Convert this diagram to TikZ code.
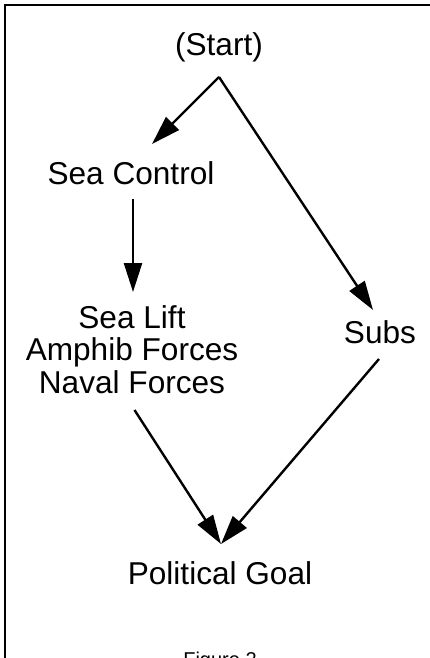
\documentclass[tikz,border=0pt]{standalone}
\usepackage{fontspec}
\setmainfont{Liberation Sans}
\usetikzlibrary{arrows.meta}
\begin{document}
\begin{tikzpicture}[x=1pt,y=-1pt,
  lbl/.style={font=\fontsize{31.6}{32.5}\selectfont, inner sep=0pt, anchor=base, align=center},
  figcap/.style={font=\fontsize{20}{22}\selectfont, inner sep=0pt, anchor=north},
  arr/.style={line width=2.4pt, -{Triangle[length=29pt,width=18pt]}},
  framestyle/.style={line width=2.6pt}]
\useasboundingbox (0,0) rectangle (430,658);
\clip (0,0) rectangle (430,658);
\draw[framestyle] (5,680) -- (5,5) -- (450,5);
\node[lbl] (start) at (219,55.5) {(Start)};
\node[lbl] (sc) at (131,184) {Sea Control};
\node[lbl] (lift) at (132,393) {Sea Lift\\Amphib Forces\\Naval Forces};
\node[lbl] (subs) at (380,343) {Subs};
\node[lbl] (goal) at (220,584) {Political Goal};
\node[figcap] (fig) at (220,651.5) {Figure 2};
\coordinate (apex) at (219,77);
\coordinate (scin) at (152,144);
\coordinate (scout) at (133,199);
\coordinate (liftin) at (133,292);
\coordinate (liftout) at (134.5,410);
\coordinate (subsin) at (373,310);
\coordinate (subsout) at (379,359);
\coordinate (goalin) at (221,544);
\draw[arr] (apex) -- (scin);
\draw[arr] (apex) -- (subsin);
\draw[arr] (scout) -- (liftin);
\draw[arr] (liftout) -- (goalin);
\draw[arr] (subsout) -- (goalin);
\end{tikzpicture}
\end{document}
